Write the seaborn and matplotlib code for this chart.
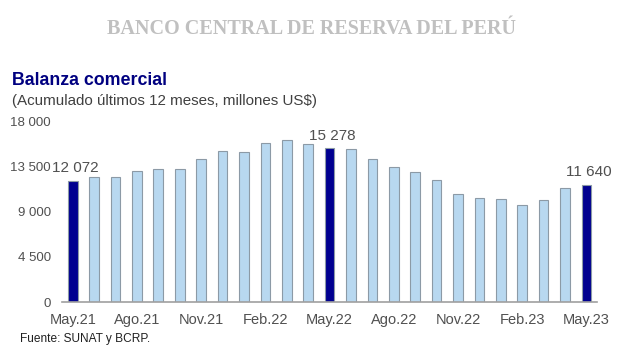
import matplotlib
matplotlib.use('Agg')
import matplotlib.pyplot as plt
import seaborn as sns
import pandas as pd

# ── DATA ─────────────────────────────────────────────────────
meses = ['May.21', 'Jun.21', 'Jul.21', 'Ago.21', 'Set.21', 'Oct.21', 'Nov.21', 'Dic.21',
         'Ene.22', 'Feb.22', 'Mar.22', 'Abr.22', 'May.22', 'Jun.22', 'Jul.22', 'Ago.22',
         'Set.22', 'Oct.22', 'Nov.22', 'Dic.22', 'Ene.23', 'Feb.23', 'Mar.23', 'Abr.23',
         'May.23']
balanza = [12072, 12400, 12470, 13030, 13200, 13270, 14270, 15000,
           14970, 15770, 16070, 15700, 15278, 15250, 14270, 13430,
           12930, 12170, 10730, 10370, 10300, 9630, 10130, 11330,
           11640]
destacados = ['May.21', 'May.22', 'May.23']
ticks_y = [0, 4500, 9000, 13500, 18000]

df = pd.DataFrame({'mes': meses, 'valor': balanza})
colores = {m: ('#000090' if m in destacados else '#b8d8f0') for m in meses}

# ── FIGURE ───────────────────────────────────────────────────
sns.set_theme(style="white")
plt.rcParams['font.family'] = ['Liberation Sans', 'DejaVu Sans']
fig = plt.figure(figsize=(6.2, 3.55), dpi=100)
ax = fig.add_axes([0.1, 0.149, 0.863, 0.51])

sns.barplot(data=df, x='mes', y='valor', hue='mes', palette=colores, legend=False,
            width=0.45, saturation=1, edgecolor='#8c9aa6', linewidth=0.8, ax=ax)

ax.set_xlim(-0.5, len(meses) - 0.5)
ax.set_ylim(0, 18000)
ax.set_yticks(ticks_y)
ax.set_yticklabels([f"{v:,.0f}".replace(",", " ") for v in ticks_y])
ax.set_xticks(range(0, len(meses), 3))
ax.set_xticklabels(meses[::3])
ax.tick_params(axis='y', colors='#505050', labelsize=9.5, length=0, pad=8)
ax.tick_params(axis='x', colors='#505050', labelsize=10.5, length=0, pad=8)
ax.set_xlabel(''); ax.set_ylabel('')
for s in ['top', 'right', 'left']:
    ax.spines[s].set_visible(False)
ax.spines['bottom'].set_color('#a0a0a0')
ax.spines['bottom'].set_linewidth(1.2)

for m in destacados:
    i = meses.index(m)
    ax.annotate(f"{balanza[i]:,.0f}".replace(",", " "), (i, balanza[i]),
                textcoords='offset points', xytext=(2, 4), ha='center', va='bottom',
                fontsize=11, color='#505050')

fig.text(0.503, 0.918, 'BANCO CENTRAL DE RESERVA DEL PERÚ', ha='center', va='center',
         family='Liberation Serif', fontweight='bold', fontsize=14.5, color='#c0c0c0')
fig.text(0.02, 0.772, 'Balanza comercial', ha='left', va='center',
         fontweight='bold', fontsize=12.8, color='#000080')
fig.text(0.02, 0.716, '(Acumulado últimos 12 meses, millones US$)', ha='left', va='center',
         fontsize=10.9, color='#404040')
fig.text(0.032, 0.045, 'Fuente: SUNAT y BCRP.', ha='left', va='center',
         fontsize=8.6, color='#202020')

plt.savefig('out.png', dpi=100)
